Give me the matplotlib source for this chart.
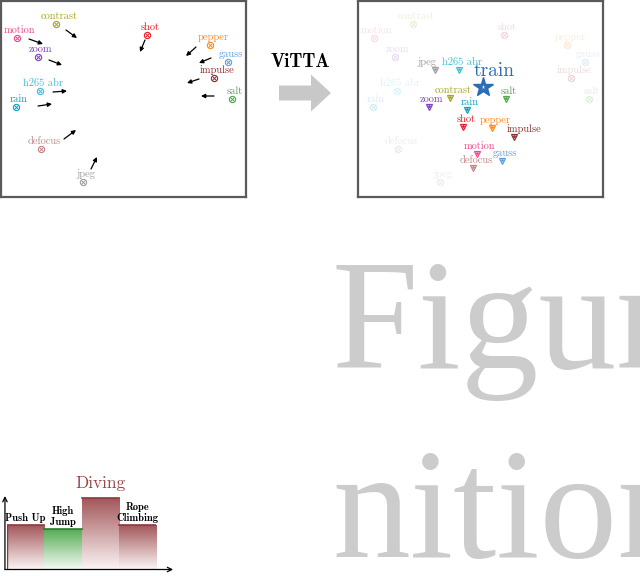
import matplotlib
matplotlib.use('Agg')
import matplotlib.pyplot as plt
import numpy as np
from matplotlib.patches import FancyArrow
from matplotlib.colors import LinearSegmentedColormap

W, H = 640, 576
fig = plt.figure(figsize=(6.4, 5.76), dpi=100)

def px_axes(x0, y0, x1, y1):
    return fig.add_axes([x0 / W, 1 - y1 / H, (x1 - x0) / W, (y1 - y0) / H])

# corruption embeddings before adaptation (left panel coords)
names = ['contrast', 'motion', 'zoom', 'h265 abr', 'rain', 'defocus',
         'jpeg', 'shot', 'pepper', 'gauss', 'impulse', 'salt']
src_x = [56, 17, 38, 40, 16, 41, 83, 147, 210, 228, 214, 232]
src_y = [24, 38, 57, 91, 107, 149, 182, 35, 45, 62, 78, 99]
# movement arrows (tail -> head)
arr_x0 = [66, 29, 49, 53, 38, 64, 91, 145, 196, 211, 199, 214]
arr_y0 = [30, 39, 60, 92, 106, 139, 169, 40, 47, 58, 79, 96]
arr_x1 = [77, 43, 62, 67, 52, 76, 97, 140, 186, 199, 187, 201]
arr_y1 = [38, 44, 65, 91, 104, 130, 157, 52, 56, 63, 83, 96]

# after ViTTA
tgt_names = ['jpeg', 'h265 abr', 'contrast', 'zoom', 'rain', 'salt',
             'shot', 'pepper', 'impulse', 'motion', 'gauss', 'defocus']
tgt_x = [78, 102, 93, 72, 110, 149, 106, 135, 157, 120, 145, 116]
tgt_y = [70, 70, 98, 107, 110, 99, 127, 128, 137, 154, 161, 168]
train_x, train_y = 126, 87

colors = {'contrast': '#a8a32a', 'motion': '#f2478f', 'zoom': '#7f3fbf',
          'h265 abr': '#3cc0dc', 'rain': '#0aa2bd', 'defocus': '#c48484',
          'jpeg': '#9e9e9e', 'shot': '#e5202a', 'pepper': '#ff8a1f',
          'gauss': '#5e9ee0', 'impulse': '#8c2e2e', 'salt': '#4fa64f'}
label_nudge = {'jpeg': -8, 'h265 abr': 0, 'impulse': 5}

# action bar chart
actions = ['Push Up', 'High\nJump', 'Diving', 'Rope\nClimbing']
heights = [44, 40, 71, 44]

# background layer
bg = fig.add_axes([0, 0, 1, 1], zorder=0)
bg.set_xlim(0, W)
bg.set_ylim(H, 0)
bg.axis('off')
bg.text(300, 62, 'ViTTA', family='cmb10', fontsize=13.5, ha='center', va='center')
bg.add_patch(FancyArrow(279, 93, 52, 0, width=15, head_width=37, head_length=20,
                        length_includes_head=True, color='#c8c8c8', lw=0))
bg.text(332, 368, 'Figure', family='Liberation Serif', fontsize=112,
        color='#cccccc', ha='left', va='baseline')
bg.text(332, 557, 'nition', family='Liberation Serif', fontsize=112,
        color='#cccccc', ha='left', va='baseline')

def setup_panel(ax):
    ax.set_xlim(1, 246)
    ax.set_ylim(197, 1)
    ax.set_xticks([])
    ax.set_yticks([])
    for s in ax.spines.values():
        s.set_color('#5a5a5a')
        s.set_linewidth(1.6)

def draw_src(ax, alpha):
    for n, x, y in zip(names, src_x, src_y):
        c = colors[n]
        ax.plot(x, y, marker='o', ms=4.5, mfc='none', mec=c, mew=0.8, alpha=alpha)
        ax.plot(x, y, marker='x', ms=2.5, mec=c, mew=0.7, alpha=alpha)
        ax.annotate(n, (x, y), xytext=(2, 2.5), textcoords='offset points',
                    ha='center', va='bottom', family='cmr10', fontsize=7.5,
                    color=c, alpha=alpha)

# left panel
axL = px_axes(1, 1, 246, 197)
setup_panel(axL)
draw_src(axL, 1.0)
for x0, y0, x1, y1 in zip(arr_x0, arr_y0, arr_x1, arr_y1):
    axL.annotate('', xy=(x1, y1), xytext=(x0, y0),
                 arrowprops=dict(arrowstyle='-|>', color='black', lw=0.9,
                                 mutation_scale=6, shrinkA=0, shrinkB=0))

# right panel
axR = px_axes(358, 1, 603, 197)
setup_panel(axR)
draw_src(axR, 0.18)
for n, x, y in zip(tgt_names, tgt_x, tgt_y):
    c = colors[n]
    axR.plot(x, y, marker='v', ms=5, mfc='none', mec=c, mew=0.9)
    axR.plot(x, y - 0.5, marker='.', ms=2, color=c)
    axR.annotate(n, (x, y), xytext=(2 + label_nudge.get(n, 0), 2.5),
                 textcoords='offset points', ha='center', va='bottom',
                 family='cmr10', fontsize=7.5, color=c)
axR.plot(train_x, train_y, marker='*', ms=15, color='#2a6db5')
axR.plot(train_x, train_y + 0.5, marker='*', ms=5, mfc='white', mec='#2a6db5', mew=0.5)
axR.annotate('train', (train_x, train_y), xytext=(8, 5), textcoords='offset points',
             ha='center', va='bottom', family='cmr10', fontsize=14, color='#2a6db5')

# bar chart
axB = px_axes(7, 470, 156, 569)
axB.set_xlim(-0.5, 3.5)
axB.set_ylim(0, 99)
axB.axis('off')
red_cm = LinearSegmentedColormap.from_list('r', ['#fbf4f4', '#a3585b'])
green_cm = LinearSegmentedColormap.from_list('g', ['#f3faf2', '#55ad55'])
grad = np.linspace(0, 1, 100).reshape(-1, 1)
bars = axB.bar(range(len(actions)), heights, width=1.0, color='none', lw=0)
for i, (b, h) in enumerate(zip(bars, heights)):
    cm = green_cm if i == 1 else red_cm
    im = axB.imshow(grad, cmap=cm, origin='lower', aspect='auto',
                    extent=[i - 0.5, i + 0.5, 0, h], zorder=1)
    im.set_clip_path(b)
    axB.plot([i - 0.5, i + 0.5], [h, h], color='#2f7a2f' if i == 1 else '#8a3a3d',
             lw=1.2, zorder=2)
axB.plot([-0.5, -0.5], [0, heights[0]], color='#8a3a3d', lw=1, zorder=2)
for i, (a, h) in enumerate(zip(actions, heights)):
    if a == 'Diving':
        axB.text(i, h + 7, a, family='cmr10', fontsize=12.5, color='#9b4545',
                 ha='center', va='bottom')
    else:
        axB.text(i, h + 2, a, family='cmb10', fontsize=7.5, color='black',
                 ha='center', va='bottom', linespacing=1.15)
# axis arrows
axB.annotate('', xy=(-0.555, 73), xytext=(-0.555, -0.5), annotation_clip=False,
             arrowprops=dict(arrowstyle='->', color='black', lw=0.9,
                             mutation_scale=8, shrinkA=0, shrinkB=0))
axB.annotate('', xy=(3.96, -0.5), xytext=(-0.555, -0.5), annotation_clip=False,
             arrowprops=dict(arrowstyle='->', color='black', lw=0.9,
                             mutation_scale=8, shrinkA=0, shrinkB=0))

fig.savefig('out.png', dpi=100)
